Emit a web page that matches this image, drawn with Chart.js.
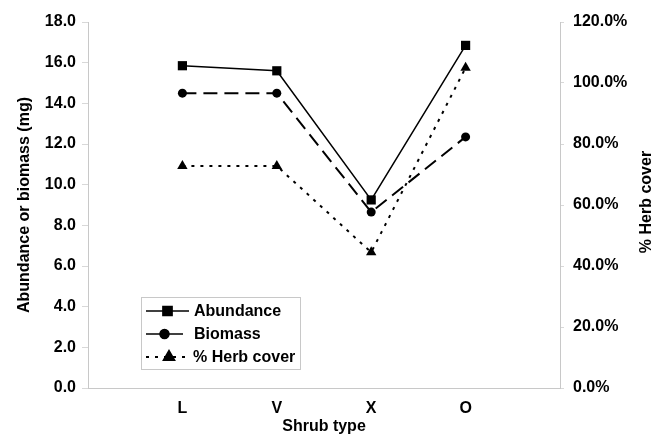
<!DOCTYPE html>
<html>
<head>
<meta charset="utf-8">
<script src="https://cdn.jsdelivr.net/npm/chart.js@4/dist/chart.umd.min.js"></script>
<style>
html,body{margin:0;padding:0;background:#fff;}
#wrap{width:654px;height:436px;position:relative;}
</style>
</head>
<body>
<div id="wrap"><canvas id="c" width="654" height="436"></canvas></div>
<script>
const categories = ['L', 'V', 'X', 'O'];
const abundance = [15.85, 15.6, 9.25, 16.85];
const biomass = [14.5, 14.5, 8.65, 12.35];
const herbCover = [72.8, 72.8, 44.5, 105.0];
const leftTicks = [0, 2, 4, 6, 8, 10, 12, 14, 16, 18];
const rightTicks = [0, 20, 40, 60, 80, 100, 120];
const rightTitle = '% Herb cover';

const toPts = arr => arr.map((v, i) => ({x: i + 1, y: v}));
const FAMILY = '"Liberation Sans", Arial, sans-serif';
const FONT = {family: FAMILY, size: 16, weight: 'bold'};

const legendItems = [
  {label: 'Abundance', dash: [], width: 1.5, style: 'rect', radius: 6.5, x0: 146, x1: 189},
  {label: 'Biomass', dash: [], width: 1.5, style: 'circle', radius: 4.5, x0: 146, x1: 183},
  {label: '% Herb cover', dash: [3, 6], width: 2, style: 'triangle', radius: 6, x0: 146, x1: 190}
];

const extrasPlugin = {
  id: 'extras',
  afterDraw(chart) {
    const ctx = chart.ctx;
    ctx.save();
    // right axis title, reading bottom-to-top
    const yS = chart.scales.y2;
    ctx.fillStyle = '#000';
    ctx.font = 'bold 16px ' + FAMILY;
    ctx.textAlign = 'center';
    ctx.textBaseline = 'middle';
    ctx.translate(647, (yS.top + yS.bottom) / 2 - 3);
    ctx.rotate(-Math.PI / 2);
    ctx.fillText(rightTitle, 0, 0);
    ctx.restore();

    ctx.save();
    ctx.fillStyle = '#fff';
    ctx.fillRect(141, 297, 159, 72);
    ctx.strokeStyle = '#c8c8c8';
    ctx.lineWidth = 1;
    ctx.strokeRect(141.5, 297.5, 159, 72);
    legendItems.forEach((it, i) => {
      const y = 311 + i * 23;
      ctx.strokeStyle = '#000';
      ctx.lineWidth = it.width;
      ctx.setLineDash(it.dash);
      ctx.beginPath();
      ctx.moveTo(it.x0, y);
      ctx.lineTo(it.x1, y);
      ctx.stroke();
      ctx.setLineDash([]);
      const mx = (it.x0 + it.x1) / 2 + (i === 2 ? 1 : 0);
      Chart.helpers.drawPoint(ctx, {pointStyle: it.style, radius: it.radius, rotation: 0, borderWidth: 1}, mx, y);
      ctx.fillStyle = '#000';
      ctx.fill();
      ctx.fillStyle = '#000';
      ctx.font = 'bold 16px ' + FAMILY;
      ctx.textBaseline = 'middle';
      ctx.textAlign = 'left';
      ctx.fillText(it.label, i === 2 ? 193 : 194, y + 1);
    });
    ctx.restore();
  }
};

new Chart(document.getElementById('c'), {
  type: 'line',
  data: {
    datasets: [
      {
        label: 'Abundance', data: toPts(abundance), yAxisID: 'y',
        borderColor: '#000', backgroundColor: '#000', borderWidth: 1.5,
        pointStyle: 'rect', pointRadius: 6.5, pointBorderWidth: 0, tension: 0
      },
      {
        label: 'Biomass', data: toPts(biomass), yAxisID: 'y',
        borderColor: '#000', backgroundColor: '#000', borderWidth: 2, borderDash: [14, 7],
        pointStyle: 'circle', pointRadius: 4.5, pointBorderWidth: 0, tension: 0
      },
      {
        label: '% Herb cover', data: toPts(herbCover), yAxisID: 'y2',
        borderColor: '#000', backgroundColor: '#000', borderWidth: 2, borderDash: [3, 6],
        pointStyle: 'triangle', pointRadius: 6, pointBorderWidth: 0, tension: 0
      }
    ]
  },
  options: {
    responsive: false,
    animation: false,
    layout: {padding: {top: 22, left: 0, right: 0, bottom: 0}},
    plugins: {legend: {display: false}, tooltip: {enabled: false}},
    scales: {
      x: {
        type: 'linear', min: 0, max: categories.length + 1,
        afterBuildTicks(s) { s.ticks = categories.map((c, i) => ({value: i + 1})); },
        afterFit(s) { s.height = 48; },
        ticks: {color: '#000', font: FONT, padding: 5, maxRotation: 0, autoSkip: false,
          callback: v => categories[v - 1] || ''},
        grid: {display: false, drawOnChartArea: false, drawTicks: true, tickLength: 6, color: '#d0d0d0'},
        border: {display: true, color: '#c8c8c8'},
        title: {display: true, text: 'Shrub type', color: '#000', font: FONT, padding: {top: 0, bottom: 0}}
      },
      y: {
        position: 'left', min: 0, max: 18,
        afterBuildTicks(s) { s.ticks = leftTicks.map(v => ({value: v})); },
        afterFit(s) { s.width = 88; },
        ticks: {color: '#000', font: FONT, padding: 6, callback: v => v.toFixed(1)},
        grid: {drawOnChartArea: false, tickLength: 6, color: '#d8d8d8'},
        border: {display: true, color: '#c8c8c8'},
        title: {display: true, text: 'Abundance or biomass (mg)', color: '#000', font: FONT, padding: {top: 15, bottom: 4}}
      },
      y2: {
        position: 'right', min: 0, max: 120,
        afterBuildTicks(s) { s.ticks = rightTicks.map(v => ({value: v})); },
        afterFit(s) { s.width = 94; },
        ticks: {color: '#000', font: FONT, padding: 9, callback: v => v.toFixed(1) + '%'},
        grid: {drawOnChartArea: false, tickLength: 4, color: '#d8d8d8'},
        border: {display: true, color: '#c8c8c8'},
        title: {display: false}
      }
    }
  },
  plugins: [extrasPlugin]
});
</script>
</body>
</html>
